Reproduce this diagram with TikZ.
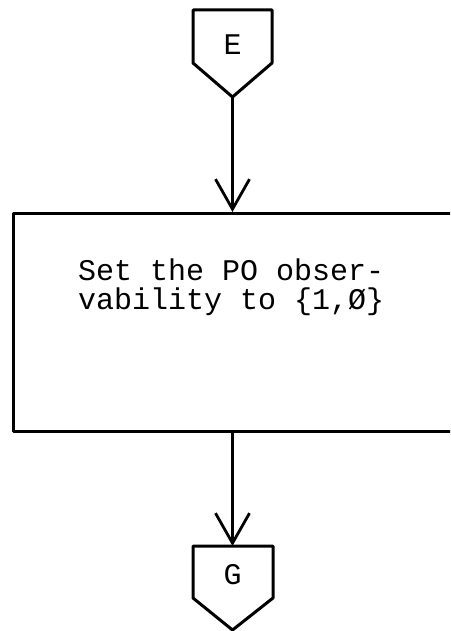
\documentclass[tikz,border=0pt]{standalone}
\usepackage{fontspec}
\setmonofont{Liberation Mono}
\usetikzlibrary{arrows.meta}
\begin{document}
\begin{tikzpicture}[x=1pt,y=1pt,
  line join=round,
  outline/.style={line width=3pt},
  flow/.style={line width=2.8pt,-{Straight Barb[length=30pt,width=34pt,line width=2.8pt]}},
  label/.style={font=\ttfamily\fontsize{30}{29}\selectfont, inner sep=0pt}]
  \useasboundingbox (0,0) rectangle (450,-631);
  \clip (0,0) rectangle (450,-631);
  % off-page connector E
  \draw[outline] (193,-10) -- (272,-10) -- (272,-63) -- (232.5,-97) -- (193,-63) -- cycle;
  \node[label] (E) at (232.5,-45) {E};
  \coordinate (Etip) at (232.5,-97);
  % process box (right edge runs off the page)
  \node[draw, outline, minimum width=460pt, minimum height=218pt, inner sep=0pt, anchor=north west] (box) at (12,-212) {};
  \node[label, anchor=base west, align=left] (txt) at (78,-309) {Set the PO obser-\\vability to \{1,Ø\}};
  % off-page connector G
  \draw[outline] (193,-546) -- (273,-546) -- (273,-598) -- (232.5,-630) -- (193,-598) -- cycle;
  \node[label] (G) at (232.5,-575) {G};
  \coordinate (Gtop) at (232.5,-546);
  % flow lines
  \draw[flow] (Etip) -- (Etip |- box.north);
  \draw[flow] (Gtop |- box.south) -- (Gtop);
\end{tikzpicture}
\end{document}
